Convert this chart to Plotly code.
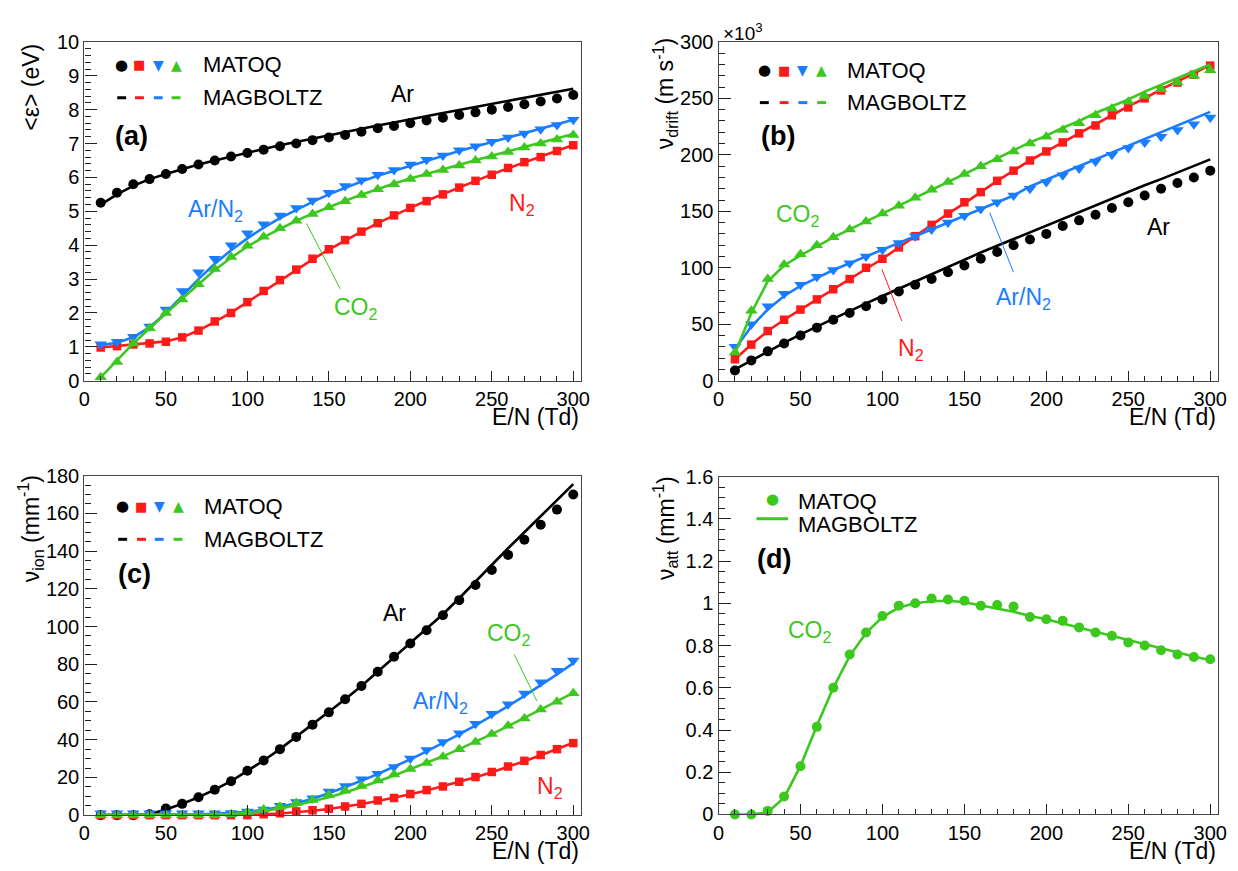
import plotly.graph_objects as go

W, H = 1238, 871
EN = list(range(10, 301, 10))

# ---------------- panel (a): mean energy (eV) ----------------
a_ar_pts = [5.25, 5.55, 5.8, 5.95, 6.1, 6.25, 6.38, 6.5, 6.62, 6.72, 6.82, 6.92, 7.0, 7.1, 7.18,
            7.25, 7.35, 7.45, 7.52, 7.6, 7.68, 7.76, 7.84, 7.92, 8.0, 8.08, 8.16, 8.24, 8.33, 8.43]
a_ar_line = [5.2, 5.5, 5.75, 5.95, 6.1, 6.25, 6.38, 6.5, 6.62, 6.73, 6.84, 6.95, 7.05, 7.15, 7.25,
             7.34, 7.44, 7.53, 7.62, 7.72, 7.81, 7.9, 7.99, 8.08, 8.17, 8.26, 8.35, 8.44, 8.53, 8.62]
a_arn2_pts = [1.08, 1.15, 1.3, 1.6, 2.1, 2.65, 3.2, 3.6, 4.0, 4.35, 4.62, 4.88, 5.1, 5.32, 5.55,
              5.75, 5.92, 6.08, 6.22, 6.38, 6.52, 6.65, 6.8, 6.92, 7.05, 7.18, 7.3, 7.42, 7.55, 7.7]
a_arn2_line = [1.05, 1.12, 1.28, 1.58, 2.0, 2.5, 3.0, 3.45, 3.85, 4.2, 4.52, 4.8, 5.05, 5.28, 5.5,
               5.7, 5.88, 6.05, 6.2, 6.35, 6.5, 6.64, 6.78, 6.91, 7.04, 7.17, 7.3, 7.43, 7.56, 7.7]
a_co2_pts = [0.1, 0.55, 1.1, 1.55, 2.0, 2.4, 2.85, 3.3, 3.65, 3.98, 4.25, 4.5, 4.72, 4.92, 5.12,
             5.3, 5.48, 5.65, 5.8, 5.95, 6.1, 6.22, 6.35, 6.5, 6.62, 6.75, 6.88, 7.0, 7.12, 7.25]
a_co2_line = [0.1, 0.6, 1.1, 1.55, 2.0, 2.42, 2.85, 3.27, 3.63, 3.96, 4.24, 4.49, 4.72, 4.93, 5.13,
              5.31, 5.49, 5.66, 5.82, 5.97, 6.11, 6.24, 6.38, 6.51, 6.64, 6.77, 6.9, 7.02, 7.14, 7.28]
a_n2_pts = [0.98, 1.02, 1.07, 1.1, 1.15, 1.28, 1.48, 1.75, 2.0, 2.32, 2.65, 2.97, 3.28, 3.6, 3.88,
            4.15, 4.4, 4.65, 4.88, 5.1, 5.3, 5.5, 5.7, 5.9, 6.08, 6.28, 6.45, 6.6, 6.78, 6.95]
a_n2_line = [0.98, 1.02, 1.06, 1.1, 1.16, 1.28, 1.48, 1.74, 2.01, 2.32, 2.64, 2.96, 3.28, 3.58, 3.87,
             4.14, 4.4, 4.65, 4.88, 5.1, 5.31, 5.51, 5.71, 5.9, 6.09, 6.27, 6.45, 6.62, 6.79, 6.96]

# ---------------- panel (b): drift velocity (x10^3 m/s) ----------------
b_ar_pts = [9, 18, 26, 33, 40, 47, 54, 60, 66, 72, 79, 85, 90, 96, 102,
            108, 114, 120, 125, 130, 137, 142, 147, 153, 158, 164, 170, 175, 180, 186]
b_ar_line = [10, 18, 26, 33.5, 41, 48, 55, 62, 68.5, 75, 81.5, 88, 94.5, 101, 107,
             113.5, 119.5, 125.5, 131.5, 137.5, 143.5, 149.5, 155.5, 161, 167, 173, 178.5, 184.5, 190, 196]
b_co2_pts = [25, 62, 90, 103, 112, 120, 127, 134, 141, 148, 155, 162, 169, 176, 183,
             190, 196, 203, 210, 216, 222, 228, 235, 241, 247, 252, 258, 264, 270, 275]
b_co2_line = [24, 60, 88, 102, 111, 119, 127, 134, 141, 148, 155, 162, 169, 176, 183,
              190, 197, 204, 211, 217, 224, 230, 237, 243, 249, 256, 262, 268, 274, 280]
b_n2_pts = [19, 32, 44, 54, 63, 72, 81, 90, 100, 108, 118, 128, 138, 148, 158,
            167, 177, 186, 195, 203, 211, 219, 226, 235, 242, 250, 257, 264, 271, 279]
b_n2_line = [19, 32, 44, 54, 63, 72, 81, 90, 99, 108, 118, 128, 138, 148, 157,
             167, 177, 186, 195, 203, 211, 219, 227, 235, 243, 250, 258, 265, 272, 280]
b_arn2_pts = [30, 50, 66, 77, 85, 92, 98, 104, 110, 116, 122, 128, 134, 140, 146,
              152, 158, 164, 170, 176, 182, 188, 194, 200, 206, 211, 216, 222, 227, 233]
b_arn2_line = [28, 48, 63, 75, 84, 91, 98, 104, 110, 116, 122, 128, 134, 140, 146,
               152, 158, 164, 172, 178, 184, 190, 196, 202, 208, 214, 220, 226, 232, 238]

# ---------------- panel (c): ionisation coefficient (1/mm) ----------------
c_ar_pts = [0, 0, 0, 0.5, 3.5, 6, 9.5, 13.5, 18, 23.5, 29, 35, 41.5, 48, 54.5,
            61.5, 68.5, 76, 84, 91, 98, 106, 114, 122, 130, 138, 146, 154, 162, 170]
c_ar_line = [0, 0, 0, 0.5, 3, 6, 9.5, 13.5, 18, 23.5, 29, 35, 41.5, 48, 54.5,
             61.5, 68.5, 76, 83.5, 91, 98.5, 106.5, 115, 124, 133, 141.5, 150, 158.5, 167, 175.5]
c_arn2_pts = [1, 1, 1, 1, 1, 1, 1, 1, 1.2, 2, 3, 5, 7, 9, 12.5,
              15.5, 19, 22, 25.5, 30, 34.5, 38.8, 43.4, 48.5, 53.8, 58.8, 64.5, 70.5, 76.5, 82]
c_arn2_line = [0, 0, 0, 0, 0, 0.2, 0.4, 0.7, 1.1, 1.8, 2.8, 4.3, 6.3, 8.7, 11.6,
               14.8, 18.2, 21.8, 25.6, 29.6, 33.8, 38.2, 42.8, 47.6, 52.6, 57.8, 63.2, 68.8, 74.6, 80.6]
c_co2_pts = [0, 0, 0, 0, 0, 0, 0, 0, 0.5, 1.5, 3, 4.5, 6.5, 8, 10.7,
             13, 15.5, 18.4, 21.5, 24.5, 27.6, 31, 35, 38.8, 43, 47.4, 51.2, 56, 60.1, 64.6]
c_co2_line = [0, 0, 0, 0, 0, 0, 0.1, 0.3, 0.6, 1.2, 2.2, 3.5, 5.2, 7.2, 9.5,
              12, 14.8, 17.8, 21, 24.3, 27.7, 31.2, 35, 38.9, 43, 47.2, 51.5, 56, 60.4, 64.8]
c_n2_pts = [0, 0, 0, 0, 0, 0, 0, 0, 0, 0, 0.5, 1, 2, 2.6, 3.4,
            4.6, 6, 7.8, 9.1, 11.2, 13.3, 15.2, 17.7, 20.2, 22.9, 25.8, 28.8, 31.9, 35, 38.2]
c_n2_line = [0, 0, 0, 0, 0, 0, 0, 0, 0, 0.1, 0.4, 0.9, 1.5, 2.3, 3.3,
             4.5, 5.9, 7.5, 9.2, 11.1, 13.1, 15.3, 17.6, 20.1, 22.8, 25.6, 28.6, 31.8, 35, 38.4]

# ---------------- panel (d): attachment coefficient (1/mm), CO2 ----------------
d_co2_pts = [0, 0, 0.017, 0.085, 0.228, 0.415, 0.6, 0.758, 0.862, 0.94, 0.989, 1.0, 1.023, 1.018, 1.012,
             0.989, 0.992, 0.985, 0.935, 0.925, 0.917, 0.886, 0.862, 0.846, 0.815, 0.8, 0.778, 0.758, 0.746, 0.735]
d_co2_line = [0, 0, 0.01, 0.08, 0.23, 0.42, 0.6, 0.75, 0.86, 0.935, 0.98, 1.0, 1.01, 1.012, 1.005,
              0.99, 0.975, 0.96, 0.94, 0.925, 0.905, 0.885, 0.865, 0.845, 0.825, 0.805, 0.785, 0.765, 0.748, 0.73]

X_MAX = 305
BLACK, RED, BLUE, GREEN = "#000000", "#ff1a1a", "#1a7dff", "#3cc81e"
FONT = "Liberation Sans, Arial, Helvetica, sans-serif"
GLYPH = "DejaVu Sans, sans-serif"


def px(x):
    return x / W


def py(y):
    return 1 - y / H


fig = go.Figure()

# axes boxes in pixels: left, right, top, bottom
boxes = {
    1: (79.3, 582, 31.7, 379.3),
    2: (720.7, 1226.3, 31.7, 379.3),
    3: (79.3, 582, 476.7, 825),
    4: (720.7, 1226.3, 477.7, 824.3),
}
yranges = {1: (0, 10, 1, 0.2), 2: (0, 300, 50, 10), 3: (0, 180, 20, 5), 4: (0, 1.6, 0.2, 0.05)}


def add(i, y, color, symbol, size, mode):
    xa = "x" if i == 1 else f"x{i}"
    ya = "y" if i == 1 else f"y{i}"
    if mode == "lines":
        fig.add_trace(go.Scatter(x=EN, y=y, mode="lines", line=dict(color=color, width=2.6),
                                 xaxis=xa, yaxis=ya, showlegend=False, hoverinfo="skip"))
    else:
        fig.add_trace(go.Scatter(x=EN, y=y, mode="markers",
                                 marker=dict(color=color, symbol=symbol, size=size, line=dict(width=0)),
                                 xaxis=xa, yaxis=ya, showlegend=False, cliponaxis=False))


series = [
    (1, a_ar_line, a_ar_pts, BLACK, "circle", 10),
    (1, a_n2_line, a_n2_pts, RED, "square", 8.5),
    (1, a_arn2_line, a_arn2_pts, BLUE, "triangle-down", 11),
    (1, a_co2_line, a_co2_pts, GREEN, "triangle-up", 11),
    (2, b_ar_line, b_ar_pts, BLACK, "circle", 10),
    (2, b_n2_line, b_n2_pts, RED, "square", 8.5),
    (2, b_arn2_line, b_arn2_pts, BLUE, "triangle-down", 11),
    (2, b_co2_line, b_co2_pts, GREEN, "triangle-up", 11),
    (3, c_ar_line, c_ar_pts, BLACK, "circle", 10),
    (3, c_n2_line, c_n2_pts, RED, "square", 8.5),
    (3, c_arn2_line, c_arn2_pts, BLUE, "triangle-down", 11),
    (3, c_co2_line, c_co2_pts, GREEN, "triangle-up", 11),
    (4, d_co2_line, d_co2_pts, GREEN, "circle", 10),
]
for i, ln, pts, col, sym, sz in series:
    add(i, pts, col, sym, sz, "markers")
    add(i, ln, col, sym, sz, "lines")

layout = dict(width=W, height=H, margin=dict(l=0, r=0, t=0, b=0),
              paper_bgcolor="white", plot_bgcolor="white", showlegend=False,
              font=dict(family=FONT, color="black", size=20))

for i, (l, r, t, b) in boxes.items():
    xs = "xaxis" if i == 1 else f"xaxis{i}"
    ys = "yaxis" if i == 1 else f"yaxis{i}"
    y0, y1, dt, mdt = yranges[i]
    layout[xs] = dict(domain=[px(l), px(r)], range=[0, X_MAX], tick0=0, dtick=50,
                      ticks="inside", ticklen=10, tickwidth=1.2, tickcolor="#222",
                      minor=dict(dtick=10, ticks="inside", ticklen=5, tickwidth=1.2, tickcolor="#222"),
                      showline=True, linecolor="#444", linewidth=1.3, mirror=True,
                      showgrid=False, zeroline=False, tickfont=dict(size=20, family=FONT),
                      anchor="y" if i == 1 else f"y{i}", fixedrange=True)
    layout[ys] = dict(domain=[py(b), py(t)], range=[y0, y1], tick0=0, dtick=dt,
                      ticks="inside", ticklen=12, tickwidth=1.2, tickcolor="#222",
                      minor=dict(dtick=mdt, ticks="inside", ticklen=6, tickwidth=1.2, tickcolor="#222"),
                      showline=True, linecolor="#444", linewidth=1.3, mirror=True,
                      showgrid=False, zeroline=False, tickfont=dict(size=20, family=FONT),
                      anchor="x" if i == 1 else f"x{i}", fixedrange=True)

fig.update_layout(**layout)

ann = []
shapes = []


def text(x, y, s, color="black", size=23, xanchor="center", bold=False, angle=0, family=FONT):
    ann.append(dict(x=px(x), y=py(y), xref="paper", yref="paper", text=(f"<b>{s}</b>" if bold else s),
                    showarrow=False, xanchor=xanchor, yanchor="middle", textangle=angle,
                    font=dict(color=color, size=size, family=family)))


def seg(x0, y0, x1, y1, color, width):
    shapes.append(dict(type="line", xref="paper", yref="paper", x0=px(x0), y0=py(y0), x1=px(x1), y1=py(y1),
                       line=dict(color=color, width=width)))


def legend4(xs, ym, yd, xt):
    glyphs = [("●", BLACK, 15), ("■", RED, 13), ("▼", BLUE, 14), ("▲", GREEN, 14)]
    for xg, (g, c, s) in zip(xs, glyphs):
        text(xg, ym, g, color=c, size=s, family=GLYPH)
        seg(xg - 4.5, yd, xg + 4.5, yd, c, 3)
    text(xt, ym, "MATOQ", size=22, xanchor="left")
    text(xt, yd, "MAGBOLTZ", size=22, xanchor="left")


# panel (a)
legend4([117, 135, 154, 172], 55, 89, 197)
text(127, 128, "(a)", size=27, bold=True)
text(401, 85, "Ar")
text(212, 205, "Ar/N<sub>2</sub>", color=BLUE)
text(354, 305, "CO<sub>2</sub>", color=GREEN)
seg(338, 285, 304, 218, GREEN, 1)
text(522, 199, "N<sub>2</sub>", color=RED)
text(25, 78, "&lt;ε&gt; (eV)", size=23, angle=-90)
text(582, 417, "E/N (Td)", size=23, xanchor="right")

# panel (b)
legend4([767, 787, 806, 825], 61, 94, 849)
text(781, 128, "(b)", size=27, bold=True)
text(801, 210, "CO<sub>2</sub>", color=GREEN)
text(1166, 222, "Ar")
text(1029, 295, "Ar/N<sub>2</sub>", color=BLUE)
seg(1019, 268, 995, 207, BLUE, 1)
text(915, 347, "N<sub>2</sub>", color=RED)
seg(906, 318, 886, 265, RED, 1)
text(666, 85, "ν<sub>drift</sub> (m s<sup>-1</sup>)", size=23, angle=-90)
text(723, 22, "×10<sup>3</sup>", size=19, xanchor="left")
text(1226, 417, "E/N (Td)", size=23, xanchor="right")

# panel (c)
legend4([118, 137, 155, 174], 508, 542, 198)
text(130, 578, "(c)", size=27, bold=True)
text(393, 618, "Ar")
text(509, 640, "CO<sub>2</sub>", color=GREEN)
seg(514, 660, 537, 708, GREEN, 1)
text(439, 709, "Ar/N<sub>2</sub>", color=BLUE)
text(550, 797, "N<sub>2</sub>", color=RED)
text(24, 531, "ν<sub>ion</sub> (mm<sup>-1</sup>)", size=23, angle=-90)
text(582, 862, "E/N (Td)", size=23, xanchor="right")

# panel (d)
text(775, 501, "●", color=GREEN, size=15, family=GLYPH)
seg(759, 521, 791, 521, GREEN, 3)
text(799, 503, "MATOQ", size=22, xanchor="left")
text(799, 527, "MAGBOLTZ", size=22, xanchor="left")
text(777, 562, "(d)", size=27, bold=True)
text(813, 637, "CO<sub>2</sub>", color=GREEN)
text(666, 530, "ν<sub>att</sub> (mm<sup>-1</sup>)", size=23, angle=-90)
text(1226, 862, "E/N (Td)", size=23, xanchor="right")

fig.update_layout(annotations=ann, shapes=shapes)
fig.write_html("out.html", config={"displayModeBar": False},
               post_script="document.body.style.margin='0';document.body.style.overflow='hidden';")
